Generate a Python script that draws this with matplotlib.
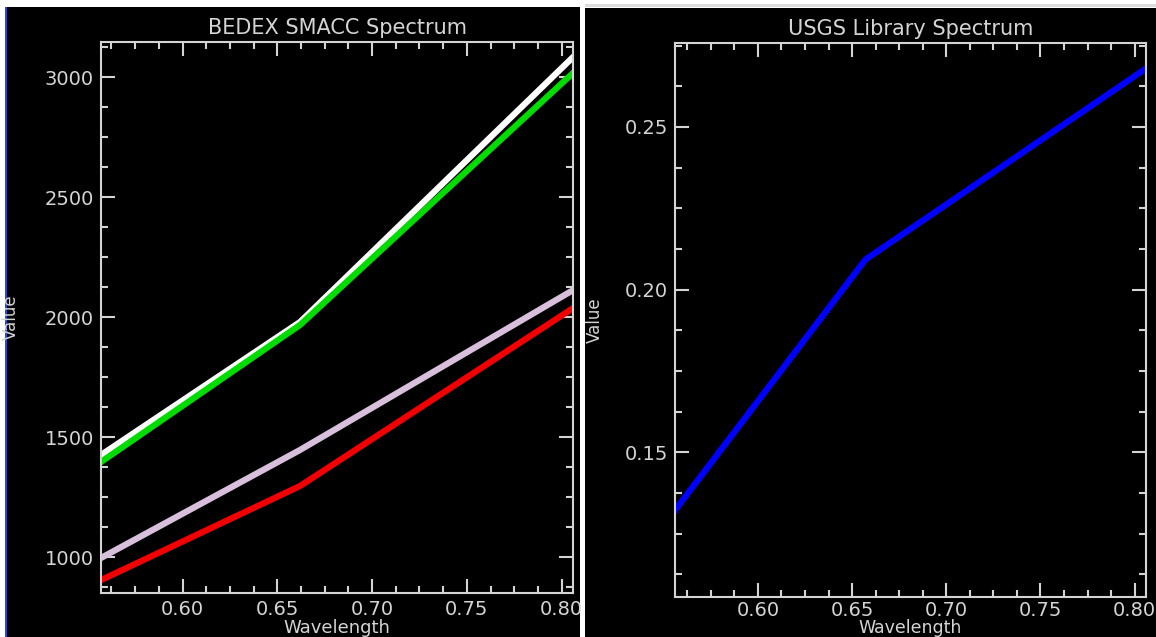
import matplotlib
matplotlib.use("Agg")
import matplotlib.pyplot as plt
import matplotlib.patches as patches
from matplotlib.ticker import MultipleLocator

# Data
wavelength = [0.557, 0.662, 0.806]
smacc_white = [1425, 1979, 3083]
smacc_green = [1396, 1967, 3017]
smacc_thistle = [996, 1446, 2112]
smacc_red = [904, 1296, 2037]

usgs_wavelength = [0.556, 0.657, 0.806]
usgs_value = [0.1322, 0.2092, 0.268]

W, H = 1156, 637
fg = "#d4d4d4"

fig = plt.figure(figsize=(W / 100, H / 100), dpi=100, facecolor="white")


def px_rect(x0, y0, x1, y1, color):
    # rectangle in pixel coordinates (origin top-left)
    r = patches.Rectangle((x0 / W, 1 - y1 / H), (x1 - x0) / W, (y1 - y0) / H,
                          transform=fig.transFigure, facecolor=color,
                          edgecolor="none", zorder=-10)
    fig.patches.append(r)


# panel backgrounds
px_rect(5, 7, 8, H, "#1f4fd0")
px_rect(7, 7, 580, H, "black")
px_rect(585, 4, W, 7, "#dcdcdc")
px_rect(585, 8, W, H, "black")


def px_axes(x0, y0, x1, y1):
    return fig.add_axes([x0 / W, 1 - y1 / H, (x1 - x0) / W, (y1 - y0) / H])


def style(ax, title, xmajor, xminor, ymajor, yminor, tpad, xpad, xsize):
    ax.set_facecolor("black")
    for s in ax.spines.values():
        s.set_color(fg)
        s.set_linewidth(1.5)
    ax.xaxis.set_major_locator(MultipleLocator(xmajor))
    ax.xaxis.set_minor_locator(MultipleLocator(xminor))
    ax.yaxis.set_major_locator(MultipleLocator(ymajor))
    ax.yaxis.set_minor_locator(MultipleLocator(yminor))
    ax.tick_params(which="both", direction="in", top=True, right=True,
                   colors=fg, labelcolor=fg, labelsize=14, width=1.5)
    ax.tick_params(which="major", length=10, pad=5)
    ax.tick_params(axis="x", which="major", pad=tpad)
    ax.tick_params(which="minor", length=5)
    ax.set_title(title, color=fg, fontsize=15, pad=6)
    ax.set_xlabel("Wavelength", color=fg, fontsize=xsize, labelpad=xpad)
    ax.set_ylabel("Value", color=fg, fontsize=12)


ax1 = px_axes(101, 42, 573, 593)
ax1.plot(wavelength, smacc_white, color="white", lw=4.5)
ax1.plot(wavelength, smacc_green, color="#00dc00", lw=4.5)
ax1.plot(wavelength, smacc_thistle, color="#d8c0dc", lw=4.5)
ax1.plot(wavelength, smacc_red, color="#f00000", lw=4.5)
ax1.set_xlim(0.557, 0.806)
ax1.set_ylim(850, 3146)
style(ax1, "BEDEX SMACC Spectrum", 0.05, 0.0125, 500, 125, 5, 0, 13)
ax1.xaxis.set_major_formatter(lambda v, p: f"{v:.2f}")
ax1.yaxis.set_label_coords(-81 / 472, 0.5)

ax2 = px_axes(675, 43, 1146, 597)
ax2.plot(usgs_wavelength, usgs_value, color="#0000ff", lw=4.5)
ax2.set_xlim(0.556, 0.806)
ax2.set_ylim(0.1055, 0.2758)
style(ax2, "USGS Library Spectrum", 0.05, 0.0125, 0.05, 0.0125, 3, -1, 12.5)
ax2.xaxis.set_major_formatter(lambda v, p: f"{v:.2f}")
ax2.yaxis.set_major_formatter(lambda v, p: f"{v:.2f}")
ax2.yaxis.set_label_coords(-71 / 471, 0.5)

fig.savefig("out.png", dpi=100, facecolor="white")
